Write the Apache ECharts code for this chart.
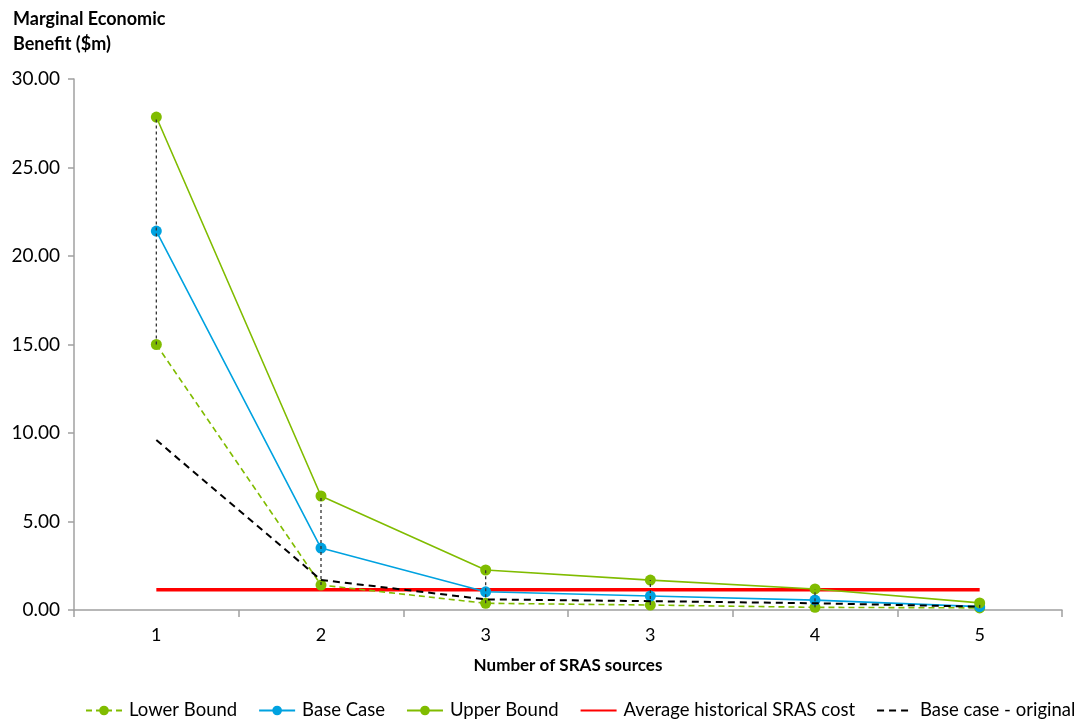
<!DOCTYPE html>
<html><head><meta charset="utf-8">
<script src="https://cdn.jsdelivr.net/npm/echarts@6/dist/echarts.min.js"></script>
<style>html,body{margin:0;padding:0;background:#fff}#c{width:1082px;height:722px}</style>
</head><body><div id="c"></div>
<script>
const categories = ['1', '2', '3', '3', '4', '5'];
const lowerBound = [15.0, 1.41, 0.38, 0.28, 0.15, 0.12];
const baseCase = [21.41, 3.5, 1.03, 0.79, 0.56, 0.19];
const upperBound = [27.85, 6.44, 2.26, 1.69, 1.19, 0.4];
const avgCost = [1.15, 1.15, 1.15, 1.15, 1.15, 1.15];
const baseOriginal = [9.6, 1.7, 0.6, 0.5, 0.38, 0.19];
const yTicks = { min: 0, max: 30, interval: 5 };

const GREEN = '#80bc00', BLUE = '#00a2e0';
const font = 'Lato, "Open Sans", sans-serif';
const chart = echarts.init(document.getElementById('c'));
const hiLo = categories.map((c, i) => [i, lowerBound[i], upperBound[i]]);
chart.setOption({
  animation: false,
  textStyle: { fontFamily: font },
  title: { text: 'Marginal Economic\nBenefit ($m)', left: 8, top: 2,
    textStyle: { fontSize: 18, fontWeight: 'bold', color: '#000', lineHeight: 25, fontFamily: font } },
  grid: { left: 74, right: 20, top: 79, bottom: 112 },
  legend: {
    bottom: -3, left: 80, itemGap: 21, itemWidth: 36, itemHeight: 12,
    textStyle: { fontSize: 18.5, color: '#000', fontFamily: font, padding: [0, 0, 0, 2] },
    data: ['Lower Bound', 'Base Case', 'Upper Bound',
      { name: 'Average historical SRAS cost', itemStyle: { opacity: 0 } },
      { name: 'Base case - original', itemStyle: { opacity: 0 } }]
  },
  xAxis: {
    type: 'category', data: categories, boundaryGap: true,
    name: 'Number of SRAS sources', nameLocation: 'middle', nameGap: 47,
    nameTextStyle: { fontSize: 17, fontWeight: 'bold', color: '#000' },
    axisLine: { lineStyle: { color: '#a0a0a0', width: 1.5 } },
    axisTick: { show: true, length: 7, lineStyle: { color: '#a0a0a0', width: 1.5 } },
    axisLabel: { fontSize: 18, color: '#000', margin: 16 },
    splitLine: { show: false }
  },
  yAxis: {
    type: 'value', min: yTicks.min, max: yTicks.max, interval: yTicks.interval,
    axisLine: { show: true, lineStyle: { color: '#a0a0a0', width: 1.5 } },
    axisTick: { show: true, length: 6, lineStyle: { color: '#a0a0a0', width: 1.5 } },
    axisLabel: { fontSize: 19, color: '#000', margin: 14, formatter: v => v.toFixed(2) },
    splitLine: { show: false }
  },
  series: [
    { name: 'Average historical SRAS cost', type: 'line', data: avgCost, symbol: 'none',
      lineStyle: { color: '#ff0000', width: 3.5 }, itemStyle: { color: '#ff0000' }, z: 3 },
    { name: 'Lower Bound', type: 'line', data: lowerBound, symbol: 'circle', symbolSize: 11,
      lineStyle: { color: GREEN, width: 1.6, type: [6, 4] }, itemStyle: { color: GREEN }, z: 4 },
    { name: 'Base Case', type: 'line', data: baseCase, symbol: 'circle', symbolSize: 11,
      lineStyle: { color: BLUE, width: 1.6 }, itemStyle: { color: BLUE }, z: 4 },
    { name: 'Upper Bound', type: 'line', data: upperBound, symbol: 'circle', symbolSize: 11,
      lineStyle: { color: GREEN, width: 1.6 }, itemStyle: { color: GREEN }, z: 4 },
    { name: 'Base case - original', type: 'line', data: baseOriginal, symbol: 'none',
      lineStyle: { color: '#000', width: 2, type: [7, 5] }, itemStyle: { color: '#000' }, z: 5 },
    { name: 'hilo', type: 'custom', data: hiLo, z: 6, silent: true,
      renderItem: (params, api) => {
        const a = api.coord([api.value(0), api.value(1)]);
        const b = api.coord([api.value(0), api.value(2)]);
        return { type: 'line', shape: { x1: a[0], y1: a[1], x2: b[0], y2: b[1] },
          style: { stroke: '#333', lineWidth: 1.3, lineDash: [3, 3] } };
      } }
  ]
});
</script></body></html>
